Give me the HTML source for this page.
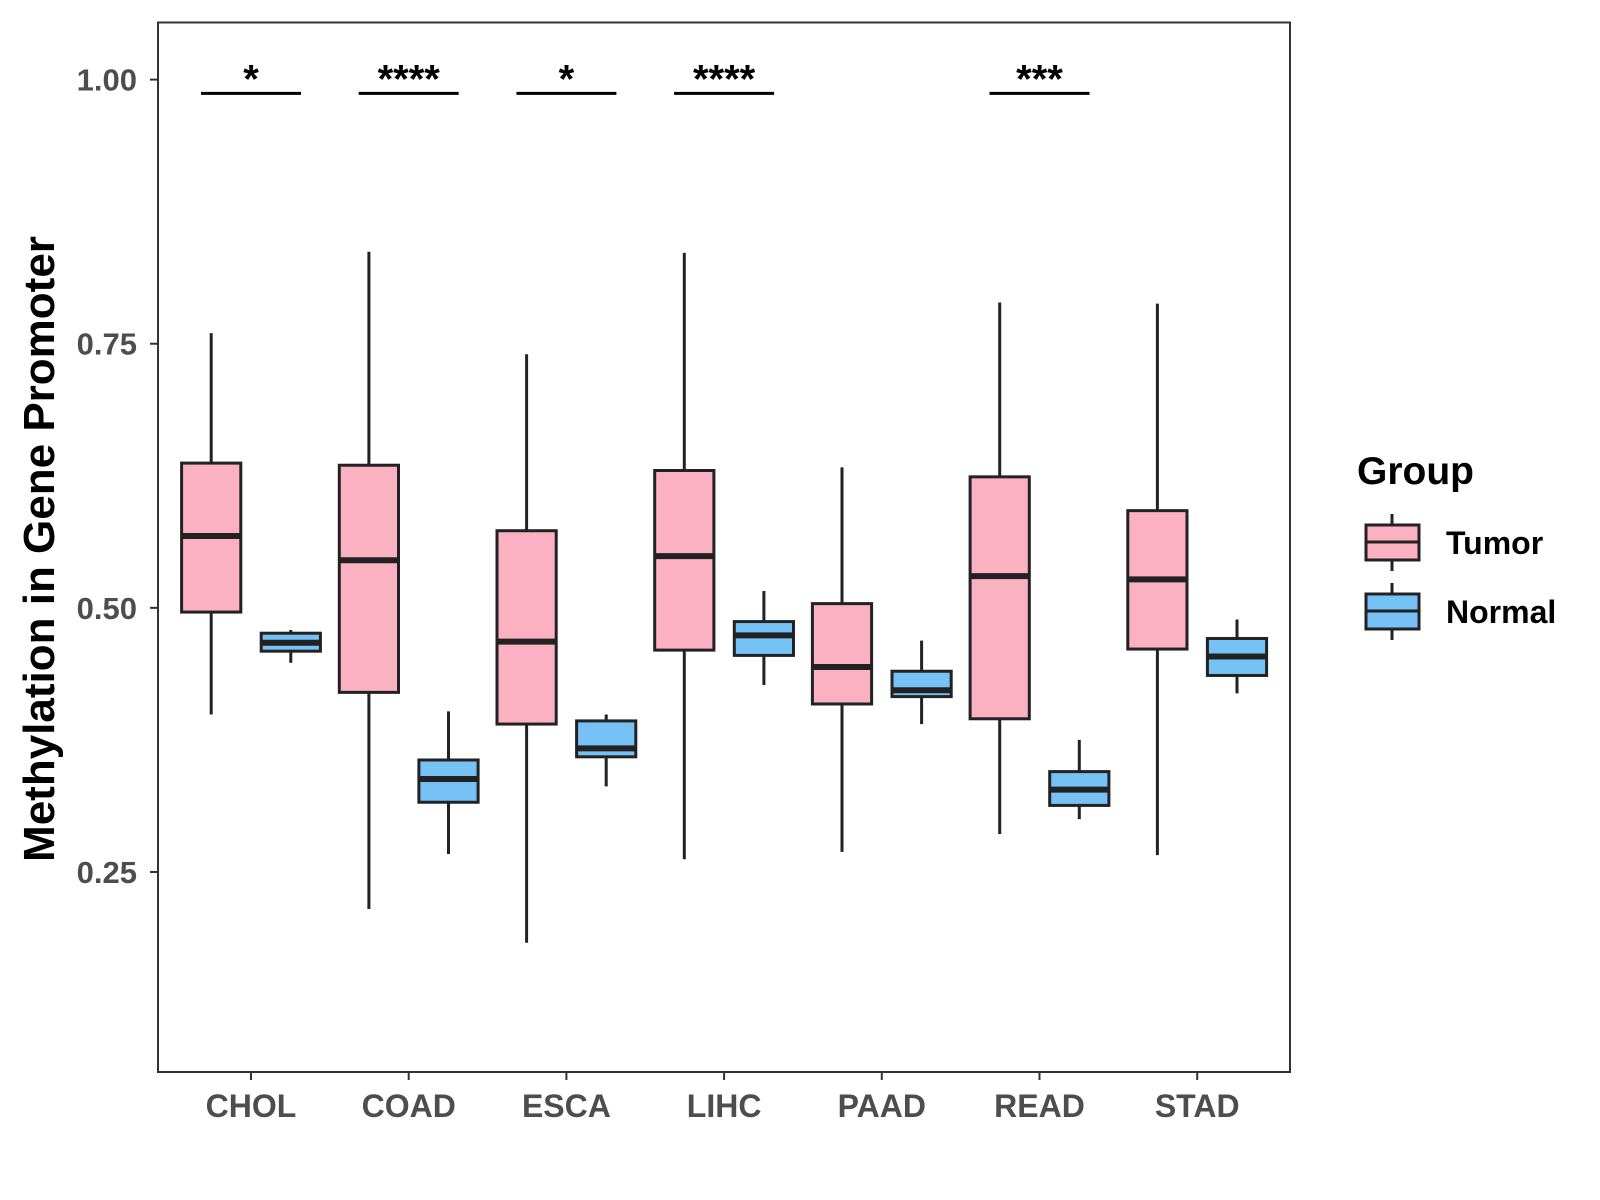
<!DOCTYPE html>
<html><head><meta charset="utf-8"><style>
html,body{margin:0;padding:0;background:#fff;}
svg{display:block;font-family:"Liberation Sans",Arial,sans-serif;}
</style></head><body>
<svg id="chart" width="1600" height="1200" viewBox="0 0 1600 1200">
<rect x="0" y="0" width="1600" height="1200" fill="#fff"/>
<g id="plot"></g>
<text transform="translate(54,549) rotate(-90)" text-anchor="middle" font-size="44" font-weight="bold" fill="#000">Methylation in Gene Promoter</text>
<g>
<text x="1357" y="484" font-size="39" font-weight="bold" fill="#000">Group</text>
<g>
<line x1="1392" y1="514" x2="1392" y2="571" stroke="#222" stroke-width="3"/>
<rect x="1366" y="525" width="53" height="35" fill="#fbb1c2" stroke="#222" stroke-width="3"/>
<line x1="1366" y1="542" x2="1419" y2="542" stroke="#222" stroke-width="3"/>
<text x="1446" y="554" font-size="32" font-weight="bold" fill="#000">Tumor</text></g>
<g>
<line x1="1392" y1="583" x2="1392" y2="640" stroke="#222" stroke-width="3"/>
<rect x="1366" y="594" width="53" height="35" fill="#76c1f6" stroke="#222" stroke-width="3"/>
<line x1="1366" y1="611" x2="1419" y2="611" stroke="#222" stroke-width="3"/>
<text x="1446" y="623" font-size="32" font-weight="bold" fill="#000">Normal</text></g>
</g>
</svg>
<script>
const categories=["CHOL","COAD","ESCA","LIHC","PAAD","READ","STAD"];
const tumorMin=[0.399,0.215,0.183,0.262,0.269,0.286,0.266];
const tumorQ1=[0.496,0.420,0.390,0.460,0.409,0.395,0.461];
const tumorMed=[0.568,0.545,0.468,0.549,0.444,0.530,0.527];
const tumorQ3=[0.637,0.635,0.573,0.630,0.504,0.624,0.592];
const tumorMax=[0.760,0.837,0.740,0.836,0.633,0.789,0.788];
const normalMin=[0.448,0.267,0.331,0.427,0.390,0.300,0.419];
const normalQ1=[0.459,0.316,0.359,0.455,0.416,0.313,0.436];
const normalMed=[0.467,0.338,0.367,0.474,0.422,0.328,0.454];
const normalQ3=[0.476,0.356,0.393,0.487,0.440,0.345,0.471];
const normalMax=[0.479,0.402,0.399,0.516,0.469,0.375,0.489];
const sigLabels=["*","****","*","****","","***",""];
const yTicks=[0.25,0.50,0.75,1.00];
const yTickLabels=["0.25","0.50","0.75","1.00"];

const NS="http://www.w3.org/2000/svg";
const L=158,T=22.5,R=1290,B=1072;
function y(v){return 79.6+(1-v)*1056.5;}
function x(i){return 251+157.7*i;}
const g=document.getElementById('plot');
function el(tag,attrs,parent){const e=document.createElementNS(NS,tag);for(const k in attrs)e.setAttribute(k,attrs[k]);(parent||g).appendChild(e);return e;}

const panel=el('rect',{x:L,y:T,width:R-L,height:B-T,fill:'none',stroke:'#333','stroke-width':2});



yTicks.forEach((v,i)=>{
  const t=el('line',{x1:L-8,x2:L,y1:y(v),y2:y(v),stroke:'#333','stroke-width':2});
  
  
  const tx=el('text',{x:L-21,y:y(v)+11,'text-anchor':'end','font-size':31,'font-weight':'bold',fill:'#4d4d4d'});
  tx.textContent=yTickLabels[i];
  
  
});
categories.forEach((c,i)=>{
  const t=el('line',{x1:x(i),x2:x(i),y1:B,y2:B+8,stroke:'#333','stroke-width':2});
  
  
  const tx=el('text',{x:x(i),y:1117,'text-anchor':'middle','font-size':32,'font-weight':'bold',fill:'#4d4d4d'});
  tx.textContent=c;
  
  
});
function box(cx,mn,q1,md,q3,mx,fill,name){
  const bg=el('g',{});
  
  
  const w=59.2;
  el('line',{x1:cx,x2:cx,y1:y(mx),y2:y(mn),stroke:'#222','stroke-width':3},bg);
  el('rect',{x:cx-w/2,y:y(q3),width:w,height:y(q1)-y(q3),fill:fill,stroke:'#222','stroke-width':3},bg);
  el('line',{x1:cx-w/2,x2:cx+w/2,y1:y(md),y2:y(md),stroke:'#222','stroke-width':6},bg);
}
categories.forEach((c,i)=>{
  box(x(i)-39.8,tumorMin[i],tumorQ1[i],tumorMed[i],tumorQ3[i],tumorMax[i],'#fbb1c2','box-tumor-'+c.toLowerCase());
  box(x(i)+39.8,normalMin[i],normalQ1[i],normalMed[i],normalQ3[i],normalMax[i],'#76c1f6','box-normal-'+c.toLowerCase());
  if(sigLabels[i]){
    const b=el('line',{x1:x(i)-50,x2:x(i)+50,y1:y(0.987),y2:y(0.987),stroke:'#000','stroke-width':3});
    
    
    const s=el('text',{x:x(i),y:y(0.987)-1,'text-anchor':'middle','font-size':40,'font-weight':'bold',fill:'#000'});
    s.textContent=sigLabels[i];
    
    
  }
});
</script>
</body></html>
